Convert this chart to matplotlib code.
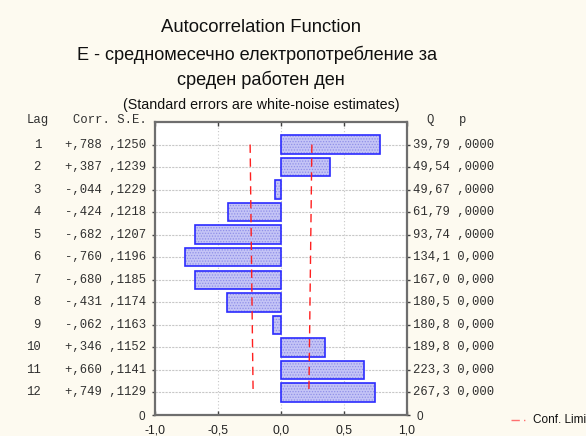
import matplotlib
matplotlib.use("Agg")
import matplotlib.pyplot as plt
import matplotlib.transforms as mtransforms
import numpy as np

plt.rcParams['font.family'] = ['Liberation Sans', 'DejaVu Sans']
plt.rcParams['hatch.linewidth'] = 0.6

# data (STATISTICA autocorrelation output)
lags = [1, 2, 3, 4, 5, 6, 7, 8, 9, 10, 11, 12]
corr = [0.788, 0.387, -0.044, -0.424, -0.682, -0.760, -0.680, -0.431, -0.062, 0.346, 0.660, 0.749]
se = [0.1250, 0.1239, 0.1229, 0.1218, 0.1207, 0.1196, 0.1185, 0.1174, 0.1163, 0.1152, 0.1141, 0.1129]
q_stat = [39.79, 49.54, 49.67, 61.79, 93.74, 134.1, 167.0, 180.5, 180.8, 189.8, 223.3, 267.3]
p_labels = [",0000", ",0000", ",0000", ",0000", ",0000", "0,000", "0,000",
            "0,000", "0,000", "0,000", "0,000", "0,000"]
x_ticks = [-1.0, -0.5, 0.0, 0.5, 1.0]

W, H = 586, 436
BG = '#fdfaf0'
MONO = 'Liberation Mono'


def fx(px):
    return px / W


def fy(py):
    return 1 - py / H


def fmt_corr(c):
    s = "%.3f" % abs(c)
    return ("+" if c >= 0 else "-") + s[1:].replace('.', ',')


def fmt_se(s):
    return ("%.4f" % s)[1:].replace('.', ',')


def fmt_q(q):
    s = "%.2f" % q if q < 100 else "%.1f" % q
    return s.replace('.', ',')


fig = plt.figure(figsize=(W / 100, H / 100), dpi=100, facecolor=BG)
ax = fig.add_axes([fx(155), fy(415), fx(407) - fx(155), fy(122) - fy(415)])
ax.set_facecolor('white')

n = len(lags)
ypos = np.array([n + 1 - l for l in lags])

# bars: hatched fill then blue outline
ax.barh(ypos, corr, height=0.82, color='#c4c4f6', edgecolor='#8f8fe8',
        hatch='......', linewidth=0, zorder=3)
ax.barh(ypos, corr, height=0.82, fill=False, edgecolor='#2b2bff',
        linewidth=1.2, zorder=4)

# confidence limits (about 2 standard errors)
lim = 1.96 * np.array(se)
ax.plot(-lim, ypos, color='#ff2020', ls=(0, (6, 4)), lw=1.0, zorder=5)
ax.plot(lim, ypos, color='#ff2020', ls=(0, (6, 4)), lw=1.0, zorder=5)

ax.set_xlim(-1, 1)
ax.set_ylim(0, n + 1)
ax.set_xticks(x_ticks)
ax.set_xticklabels([("%.1f" % t).replace('.', ',') for t in x_ticks], fontsize=8.7)
ax.set_yticks([0] + list(ypos))
ax.set_yticklabels(["0"] + [""] * n, fontsize=8.5)
ax.tick_params(axis='y', length=2, width=1, color='#404040', right=True,
               labelright=True, pad=5, labelcolor='#303030')
ax.tick_params(axis='x', length=3, width=1, color='#404040', direction='in',
               top=True, pad=7, labelcolor='#202020')

for yy in ypos:
    ax.axhline(yy, color='#c8c8c8', lw=0.8, ls=(0, (2, 1)), zorder=1)
for xx in [-0.5, 0.0, 0.5]:
    ax.axvline(xx, color='#c8c8c8', lw=0.8, ls=(0, (1, 2)), zorder=1)

for s in ax.spines.values():
    s.set_color('#6e6e6e')
    s.set_linewidth(1.6)

# text columns beside the plot
tr = mtransforms.blended_transform_factory(fig.transFigure, ax.transData)
for i in range(n):
    y = ypos[i]
    ax.text(fx(41), y, str(lags[i]), transform=tr, ha='right', va='center',
            family=MONO, fontsize=8.8, color='#303030')
    ax.text(fx(65), y, fmt_corr(corr[i]) + " " + fmt_se(se[i]), transform=tr,
            ha='left', va='center', family=MONO, fontsize=8.8, color='#303030')
    ax.text(fx(413), y, fmt_q(q_stat[i]) + " " + p_labels[i], transform=tr,
            ha='left', va='center', family=MONO, fontsize=8.8, color='#303030')

fig.text(fx(27), fy(120), "Lag", family=MONO, fontsize=8.8, ha='left',
         va='center', color='#303030')
fig.text(fx(73), fy(120), "Corr. S.E.", family=MONO, fontsize=8.8, ha='left',
         va='center', color='#303030')
fig.text(fx(426), fy(120), "Q", family=MONO, fontsize=8.8, ha='left',
         va='center', color='#303030')
fig.text(fx(459), fy(120), "p", family=MONO, fontsize=8.8, ha='left',
         va='center', color='#303030')

# titles
fig.text(fx(261), fy(32), "Autocorrelation Function", ha='center',
         va='baseline', fontsize=13.3, color='#101010')
fig.text(fx(257), fy(60), "Е - средномесечно електропотребление за", ha='center',
         va='baseline', fontsize=13.1, color='#101010')
fig.text(fx(261), fy(85), "среден работен ден", ha='center',
         va='baseline', fontsize=13.1, color='#101010')
fig.text(fx(261), fy(109), "(Standard errors are white-noise estimates)",
         ha='center', va='baseline', fontsize=10.3, color='#101010')

# legend entry (cut off at the right edge like the original)
fig.add_artist(plt.Line2D([fx(511), fx(527)], [fy(420), fy(420)],
                          color='#ff7070', lw=1.0, ls=(0, (6, 3, 1, 3))))
fig.text(fx(533), fy(420), "Conf. Limit", ha='left', va='center',
         fontsize=8.5, color='#101010')

fig.savefig("out.png", dpi=100, facecolor=BG)
